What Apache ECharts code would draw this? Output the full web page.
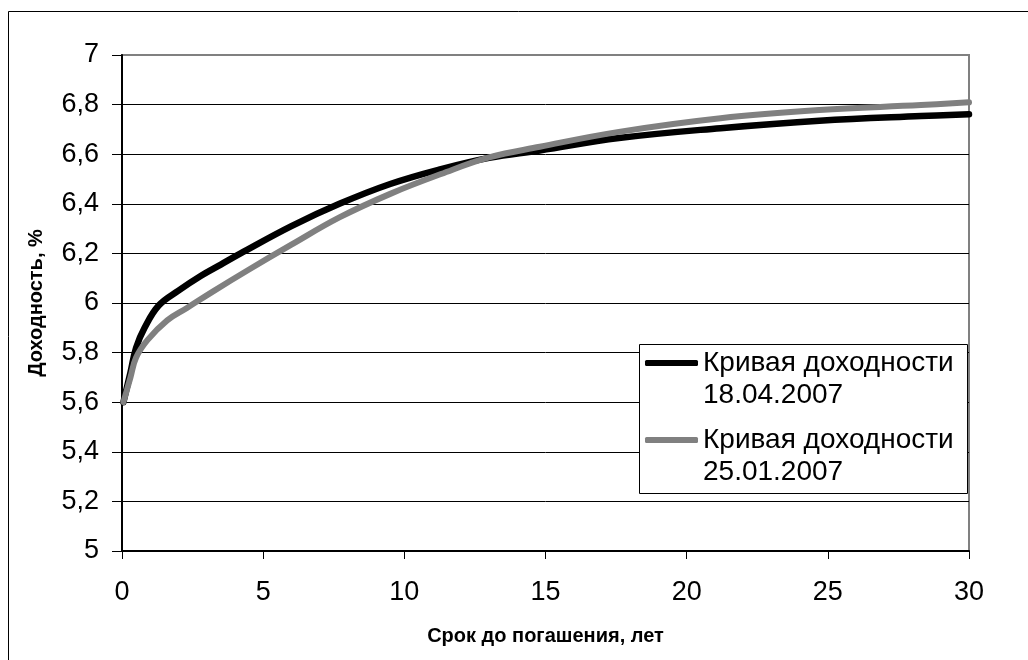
<!DOCTYPE html>
<html lang="ru">
<head>
    <meta charset="UTF-8">
    <title>Кривая доходности</title>
    <script src="https://cdn.jsdelivr.net/npm/echarts@6/dist/echarts.min.js"></script>
    <style>
        html, body {margin: 0; padding: 0; background: #fff;}
    </style>
</head>
<body>
    <div id="chart" style="width: 1028px; height: 660px"></div>
    <script type="text/javascript">
        // кривая доходности 18.04.2007: [срок, доходность]
        let curveApr = [
            [0.05, 5.60], [0.3, 5.72], [0.5, 5.82], [0.8, 5.90], [1.3, 5.99], [2, 6.05],
            [2.8, 6.11], [3.5, 6.155], [4.2, 6.20], [6, 6.31], [7.7, 6.40], [9.5, 6.48],
            [11.3, 6.54], [13, 6.585], [14.8, 6.615], [17.6, 6.665], [21.2, 6.705],
            [24.7, 6.735], [28.3, 6.754], [30, 6.761]
        ];
        // кривая доходности 25.01.2007
        let curveJan = [
            [0.05, 5.60], [0.3, 5.70], [0.5, 5.78], [0.9, 5.85], [1.6, 5.93], [2.3, 5.98],
            [3.2, 6.045], [4.5, 6.135], [6, 6.235], [7.7, 6.345], [9.5, 6.44], [11.3, 6.52],
            [13, 6.587], [14.8, 6.63], [17.6, 6.69], [21.2, 6.745], [24.7, 6.778],
            [28.3, 6.798], [30, 6.809]
        ];
        let seriesNames = ['Кривая доходности\n18.04.2007', 'Кривая доходности\n25.01.2007'];
        let seriesColors = ['#000000', '#808080'];

        let font = 'Arial, "Liberation Sans", sans-serif';
        let myChart = echarts.init(document.getElementById('chart'));

        let legendText = {
            fontFamily: font,
            fontSize: 28,
            color: '#000',
            lineHeight: 32
        };
        // пустая первая строка, чтобы значок стоял напротив первой строки подписи
        let legendFormatter = name => ' \n' + name;

        let splitColors = [];
        for (let i = 0; i < 10; i++) splitColors.push('#000');
        splitColors.push('#808080');

        let option = {
            backgroundColor: '#fff',
            animation: false,
            grid: {
                left: 122, top: 55, right: 59, bottom: 109,
                show: true, borderColor: '#808080', borderWidth: 2
            },
            graphic: [{
                type: 'rect',
                shape: {x: 8.5, y: 11.5, width: 1100, height: 700},
                style: {fill: 'none', stroke: '#000', lineWidth: 1},
                z: -1
            }, {
                type: 'rect',
                shape: {x: 639.5, y: 344.5, width: 328, height: 149},
                style: {fill: '#fff', stroke: '#000', lineWidth: 1},
                z: 5
            }],
            legend: [{
                data: [seriesNames[0]],
                left: 645, top: 315, padding: 0,
                icon: 'roundRect', itemWidth: 53, itemHeight: 6,
                formatter: legendFormatter,
                textStyle: legendText, z: 10
            }, {
                data: [seriesNames[1]],
                left: 645, top: 392, padding: 0,
                icon: 'roundRect', itemWidth: 53, itemHeight: 6,
                formatter: legendFormatter,
                textStyle: legendText, z: 10
            }],
            xAxis: {
                type: 'value',
                min: 0, max: 30, interval: 5,
                name: 'Срок до погашения, лет',
                nameLocation: 'middle',
                nameGap: 75,
                nameTextStyle: {fontFamily: font, fontSize: 20, fontWeight: 'bold', color: '#000'},
                axisLine: {lineStyle: {color: '#000', width: 2}},
                axisTick: {length: 8, lineStyle: {color: '#000', width: 1}},
                axisLabel: {fontFamily: font, fontSize: 27, color: '#000', margin: 28},
                splitLine: {show: false}
            },
            yAxis: {
                type: 'value',
                min: 5, max: 7, interval: 0.2,
                name: 'Доходность, %',
                nameLocation: 'middle',
                nameGap: 76,
                nameTextStyle: {fontFamily: font, fontSize: 20, fontWeight: 'bold', color: '#000'},
                axisLine: {show: true, lineStyle: {color: '#000', width: 2}},
                axisTick: {show: true, length: 10, lineStyle: {color: '#000', width: 1}},
                axisLabel: {
                    fontFamily: font, fontSize: 27, color: '#000', margin: 23,
                    formatter: v => (Math.round(v * 10) / 10).toString().replace('.', ',')
                },
                splitLine: {lineStyle: {color: splitColors, width: 1}}
            },
            series: [{
                name: seriesNames[0],
                type: 'line',
                data: curveApr,
                smooth: 0.4,
                showSymbol: false,
                color: seriesColors[0],
                lineStyle: {width: 6.5, cap: 'round', join: 'round'}
            }, {
                name: seriesNames[1],
                type: 'line',
                data: curveJan,
                smooth: 0.4,
                showSymbol: false,
                color: seriesColors[1],
                lineStyle: {width: 6, cap: 'round', join: 'round'}
            }]
        };
        myChart.setOption(option);
    </script>
</body>
</html>
